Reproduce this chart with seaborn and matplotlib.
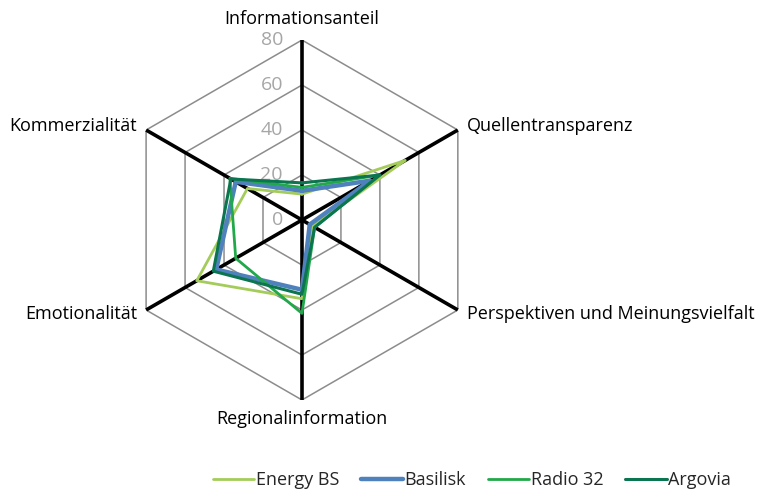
import numpy as np
import pandas as pd
import matplotlib
matplotlib.use('Agg')
import matplotlib.pyplot as plt
import seaborn as sns

categories = ['Informationsanteil', 'Quellentransparenz', 'Perspektiven und Meinungsvielfalt',
              'Regionalinformation', 'Emotionalität', 'Kommerzialität']
senders = ['Energy BS', 'Basilisk', 'Radio 32', 'Argovia']
energy_bs = [11.5, 53, 5.5, 35, 54, 28]
basilisk = [13, 35, 4, 31, 44, 34]
radio_32 = [14.5, 40, 6.5, 41.5, 34, 37]
argovia = [16.5, 40, 6.5, 33, 45.5, 36.5]
ring_ticks = [0, 20, 40, 60, 80]

colors = {'Energy BS': '#a4cc5a', 'Basilisk': '#4f81bd', 'Radio 32': '#20a84a', 'Argovia': '#0b7550'}
widths = {'Energy BS': 2.0, 'Basilisk': 3.2, 'Radio 32': 2.0, 'Argovia': 2.2}

sns.set_style('white')
plt.rcParams['font.family'] = ['Open Sans', 'DejaVu Sans']

angles = np.deg2rad(np.arange(len(categories)) * 60.0)

# long form table, closing each polygon with its first point
rows = []
for name, vals in zip(senders, [energy_bs, basilisk, radio_32, argovia]):
    for i in list(range(len(categories))) + [0]:
        rows.append({'Sender': name, 'theta': angles[i], 'value': vals[i]})
df = pd.DataFrame(rows)

fig = plt.figure(figsize=(7.61, 4.94), dpi=100)
ax = fig.add_axes([0.1603, 0.1903, 0.473, 0.7287], projection='polar')
ax.set_theta_zero_location('N')
ax.set_theta_direction(-1)
ax.set_ylim(0, 80)
ax.grid(False)
ax.spines['polar'].set_visible(False)
ax.set_xticks([])
ax.set_yticks([])
ax.set_facecolor('none')

closed = np.append(angles, angles[0])
for r in ring_ticks[1:]:
    ax.plot(closed, [r] * len(closed), color='#8c8c8c', lw=1.1, zorder=1)
for a in angles:
    ax.plot([a, a], [0, 80], color='black', lw=2.6, zorder=2)

for r in ring_ticks:
    ax.annotate(str(r), xy=(0, r), xytext=(-19, 0), textcoords='offset pixels',
                ha='right', va='center', color='#a6a6a6', fontsize=14, zorder=3)

sns.lineplot(data=df, x='theta', y='value', hue='Sender', hue_order=senders,
             palette=colors, sort=False, estimator=None, ax=ax, legend=False, zorder=4)
for line, name in zip(ax.get_lines()[-4:], senders):
    line.set_linewidth(widths[name])

label_pos = [((0, 12), 'center', 'bottom'), ((9, 4), 'left', 'center'),
             ((9, -4), 'left', 'center'), ((0, -10), 'center', 'top'),
             ((-9, -4), 'right', 'center'), ((-9, 4), 'right', 'center')]
for a, cat, (off, ha, va) in zip(angles, categories, label_pos):
    ax.annotate(cat, xy=(a, 80), xytext=off, textcoords='offset pixels',
                ha=ha, va=va, fontsize=13, color='black')

handles = [plt.Line2D([], [], color=colors[s], lw=widths[s]) for s in senders]
fig.legend(handles, senders, loc='center', bbox_to_anchor=(472 / 761, 1 - 480 / 494),
           ncol=4, frameon=False, fontsize=13, handlelength=2.3, handletextpad=0.1,
           columnspacing=1.2)

fig.savefig('out.png', dpi=100)
